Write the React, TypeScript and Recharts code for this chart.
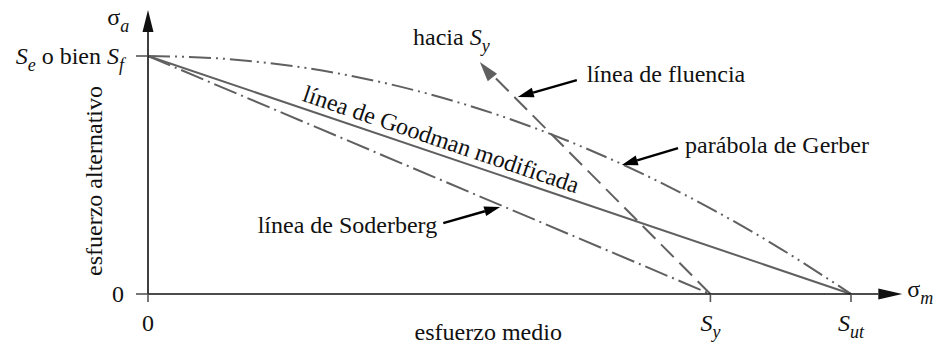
import { LineChart, Line, XAxis, YAxis, ReferenceLine, ReferenceDot } from 'recharts'

// σm in % of Sut, σa in % of Se
const SE = 100
const SY = 80
const SUT = 100

const gerberX = [0, 10, 20, 30, 40, 50, 60, 70, 80, 90, 100]
const gerberY = [100, 99, 96, 91, 84, 75, 64, 51, 36, 19, 0]
const goodmanX = [0, 100]
const goodmanY = [100, 0]
const soderbergX = [0, 80]
const soderbergY = [100, 0]
const yieldX = [80, 48]
const yieldY = [0, 95]

const xTicks = [0, SY, SUT]
const yTicks = [0, SE]
// 'r:' roman, 'i:' italic, 's:' italic subscript
const xTickLabels = [['r:0'], ['i:S', 's:y'], ['i:S', 's:ut']]
const yTickLabels = [['r:0'], ['i:S', 's:e', 'r: o bien ', 'i:S', 's:f']]

const zip = (xs: number[], ys: number[]) => xs.map((x, i) => ({ x, y: ys[i] }))
const gerber = zip(gerberX, gerberY)
const goodman = zip(goodmanX, goodmanY)
const soderberg = zip(soderbergX, soderbergY)
const fluencia = zip(yieldX, yieldY)

const FONT = 'Liberation Serif, Times, serif'
const FS = 24
const GRAY = '#606060'
const txt = { fontFamily: FONT, fontSize: FS, fill: '#111' }

type Note = { x: number; y: number; parts: string[]; anchor?: 'start' | 'middle' | 'end'; rotate?: number }
const notes: Note[] = [
  { x: 37.7, y: 104.6, parts: ['r:hacia ', 'i:S', 's:y'] },
  { x: 62.4, y: 89.1, parts: ['r:línea de fluencia'] },
  { x: 76.4, y: 59.2, parts: ['r:parábola de Gerber'] },
  { x: 15.6, y: 25.6, parts: ['r:línea de Soderberg'] },
  { x: 48.4, y: -19.3, parts: ['r:esfuerzo medio'], anchor: 'middle' },
  { x: -6.5, y: 47.5, parts: ['r:esfuerzo alternativo'], anchor: 'middle', rotate: -90 },
  { x: -5.8, y: 113, parts: ['r:σ', 's:a'] },
  { x: 108, y: -1.3, parts: ['r:σ', 's:m'] },
]

type Arrow = { from: [number, number]; to: [number, number]; color: string; head: number; w: number; sw: number; line: boolean }
const arrows: Arrow[] = [
  { from: [0, 0], to: [0, 119.3], color: '#111', head: 22, w: 11, sw: 1.6, line: true },
  { from: [0, 0], to: [107.3, 0], color: '#111', head: 24, w: 11, sw: 1.6, line: true },
  { from: [52, 80], to: [47.2, 97.5], color: GRAY, head: 20, w: 12, sw: 2, line: false },
  { from: [61.0, 89.9], to: [52.6, 82.8], color: '#000', head: 16, w: 10, sw: 2.4, line: true },
  { from: [75.4, 61.3], to: [67.4, 54.2], color: '#000', head: 16, w: 10, sw: 2.4, line: true },
  { from: [42.0, 29.8], to: [50.1, 36.6], color: '#000', head: 16, w: 10, sw: 2.4, line: true },
]

function Rich({ parts, size = FS }: { parts: string[]; size?: number }) {
  let low = false
  return (
    <>
      {parts.map((p, i) => {
        const kind = p[0]
        const t = p.slice(2)
        const sub = kind === 's'
        const dy = sub && !low ? size * 0.28 : !sub && low ? -size * 0.28 : 0
        low = sub
        return (
          <tspan
            key={i}
            dy={dy || undefined}
            style={{ fontFamily: FONT, fontStyle: kind === 'r' ? 'normal' : 'italic', fontSize: sub ? size * 0.75 : size }}
          >
            {t}
          </tspan>
        )
      })}
    </>
  )
}

const XTick = (props: any) => {
  const { x, y, payload } = props
  const i = xTicks.indexOf(payload.value)
  return (
    <text x={x} y={y + 27} textAnchor="middle" style={txt}>
      <Rich parts={xTickLabels[i]} />
    </text>
  )
}

const YTick = (props: any) => {
  const { x, y, payload } = props
  const i = yTicks.indexOf(payload.value)
  return (
    <text x={x - 10} y={y + 8} textAnchor="end" style={txt}>
      <Rich parts={yTickLabels[i]} />
    </text>
  )
}

function arrowShape(a: Arrow) {
  return (p: any) => {
    const { x1, y1, x2, y2 } = p
    const ang = Math.atan2(y2 - y1, x2 - x1)
    const bx = x2 - a.head * Math.cos(ang)
    const by = y2 - a.head * Math.sin(ang)
    const nx = (-Math.sin(ang) * a.w) / 2
    const ny = (Math.cos(ang) * a.w) / 2
    return (
      <g>
        {a.line && <line x1={x1} y1={y1} x2={bx} y2={by} stroke={a.color} strokeWidth={a.sw} />}
        <polygon points={`${x2},${y2} ${bx + nx},${by + ny} ${bx - nx},${by - ny}`} fill={a.color} />
      </g>
    )
  }
}

// Goodman label sits along its line
const goodmanLabel = (p: any) => {
  const { x1, y1, x2, y2 } = p
  const deg = (Math.atan2(y2 - y1, x2 - x1) * 180) / Math.PI
  return (
    <text
      transform={`translate(${(x1 + x2) / 2},${(y1 + y2) / 2}) rotate(${deg})`}
      y={-7}
      textAnchor="middle"
      style={txt}
    >
      línea de Goodman modificada
    </text>
  )
}

const noteShape = (n: Note) => (p: any) => {
  const { cx, cy } = p
  return (
    <text
      x={cx}
      y={cy}
      transform={n.rotate ? `rotate(${n.rotate},${cx},${cy})` : undefined}
      textAnchor={n.anchor ?? 'start'}
      style={txt}
    >
      <Rich parts={n.parts} />
    </text>
  )
}

export default function App() {
  return (
    <div style={{ width: 938, height: 347, background: '#fff', fontFamily: FONT }}>
      <style>{'body{margin:0}'}</style>
      <LineChart width={938} height={347} margin={{ top: 56, right: 87, bottom: 0, left: 0 }}>
        <XAxis
          type="number"
          dataKey="x"
          domain={[0, 100]}
          ticks={xTicks}
          height={53}
          axisLine={false}
          tickSize={8}
          tickLine={{ stroke: '#555', strokeWidth: 1.6 }}
          tick={<XTick />}
          interval={0}
        />
        <YAxis
          type="number"
          dataKey="y"
          domain={[0, 100]}
          ticks={yTicks}
          width={148}
          axisLine={false}
          tickSize={12}
          tickLine={{ stroke: '#555', strokeWidth: 1.6 }}
          tick={<YTick />}
          interval={0}
        />
        <Line data={goodman} dataKey="y" type="linear" stroke={GRAY} strokeWidth={2} dot={false} activeDot={false} isAnimationActive={false} />
        <Line data={soderberg} dataKey="y" type="linear" stroke={GRAY} strokeWidth={2} strokeDasharray="24 5 2 5" dot={false} activeDot={false} isAnimationActive={false} />
        <Line data={gerber} dataKey="y" type="monotone" stroke={GRAY} strokeWidth={2} strokeDasharray="22 5 2 5 2 5" dot={false} activeDot={false} isAnimationActive={false} />
        <Line data={fluencia} dataKey="y" type="linear" stroke={GRAY} strokeWidth={2} strokeDasharray="18 8" dot={false} activeDot={false} isAnimationActive={false} />
        {arrows.map((a, i) => (
          <ReferenceLine
            key={'a' + i}
            segment={[{ x: a.from[0], y: a.from[1] }, { x: a.to[0], y: a.to[1] }]}
            ifOverflow="visible"
            shape={arrowShape(a)}
          />
        ))}
        <ReferenceLine segment={[{ x: 21, y: 79 }, { x: 61, y: 39 }]} ifOverflow="visible" shape={goodmanLabel} />
        {notes.map((n, i) => (
          <ReferenceDot key={'n' + i} x={n.x} y={n.y} r={0} ifOverflow="visible" shape={noteShape(n)} />
        ))}
      </LineChart>
    </div>
  )
}
